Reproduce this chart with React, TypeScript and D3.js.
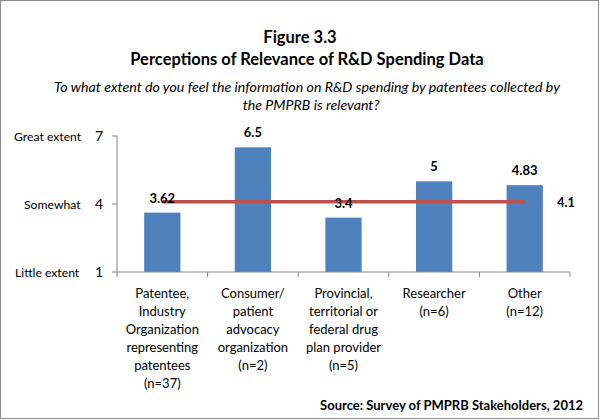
import React from "react";
import * as d3 from "d3";

const categories: string[][] = [
  ["Patentee,", "Industry", "Organization", "representing", "patentees", "(n=37)"],
  ["Consumer/", "patient", "advocacy", "organization", "(n=2)"],
  ["Provincial,", "territorial or", "federal drug", "plan provider", "(n=5)"],
  ["Researcher", "(n=6)"],
  ["Other", "(n=12)"],
];
const values: number[] = [3.62, 6.5, 3.4, 5, 4.83];
const valueLabels: string[] = ["3.62", "6.5", "3.4", "5", "4.83"];
const average = 4.1;
const averageLabel = "4.1";
const yTicks: number[] = [1, 4, 7];
const yTickNames: string[] = ["Little extent", "Somewhat", "Great extent"];

const W = 600;
const H = 420;
const FONT = "Lato, 'Open Sans', sans-serif";

export default function App() {
  const x = d3
    .scaleBand<number>()
    .domain(d3.range(categories.length))
    .range([117, 570])
    .paddingInner(0)
    .paddingOuter(0);
  const y = d3.scaleLinear().domain([1, 7]).range([272, 136]);
  const bw = x.bandwidth() * 0.4;
  const boundaries = d3.range(categories.length + 1).map((i) =>
    i < categories.length ? (x(i) as number) : (x(i - 1) as number) + x.bandwidth()
  );
  const cx = (i: number) => (x(i) as number) + x.bandwidth() / 2;
  const axisColor = "#868686";
  const nameX = [15, 24, 14];

  return (
    <svg
      width={W}
      height={H}
      style={{ position: "absolute", left: 0, top: 0, fontFamily: FONT }}
    >
      <rect x={0} y={0} width={W} height={H} fill="#fff" />
      <rect x={0.5} y={0.5} width={W - 2} height={H - 2} fill="none" stroke="#8c8c8c" />
      {/* Titles */}
      <text x={300} y={43} textAnchor="middle" fontWeight="bold" fontSize={16.5} fill="#000">
        Figure 3.3
      </text>
      <text x={307} y={65} textAnchor="middle" fontWeight="bold" fontSize={16.5} fill="#000">
        Perceptions of Relevance of R&amp;D Spending Data
      </text>
      <text x={307} y={92} textAnchor="middle" fontStyle="italic" fontSize={14.2} fill="#000">
        To what extent do you feel the information on R&amp;D spending by patentees collected by
      </text>
      <text x={311} y={110} textAnchor="middle" fontStyle="italic" fontSize={14.2} fill="#000">
        the PMPRB is relevant?
      </text>

      {/* Bars */}
      {values.map((v, i) => (
        <rect
          key={i}
          x={cx(i) - bw / 2}
          y={y(v)}
          width={bw}
          height={y(1) - y(v)}
          fill="#4F81BD"
        />
      ))}

      {/* Axes */}
      <line x1={117} x2={117} y1={y(7)} y2={y(1)} stroke={axisColor} />
      {yTicks.map((t) => (
        <line key={t} x1={112} x2={117} y1={y(t)} y2={y(t)} stroke={axisColor} />
      ))}
      <line x1={117} x2={570} y1={y(1)} y2={y(1)} stroke={axisColor} />
      {boundaries.map((b, i) => (
        <line key={i} x1={b} x2={b} y1={y(1)} y2={y(1) + 5} stroke={axisColor} />
      ))}
      {yTicks.map((t) => (
        <text key={t} x={99} y={y(t) + 5} textAnchor="middle" fontSize={14} fill="#000">
          {t}
        </text>
      ))}
      {yTickNames.map((n, i) => (
        <text key={n} x={nameX[i]} y={y(yTicks[i]) + 5} fontSize={12.2} fill="#000">
          {n}
        </text>
      ))}

      {/* Average line */}
      <line
        x1={cx(0)}
        x2={cx(categories.length - 1)}
        y1={y(average)}
        y2={y(average)}
        stroke="#C0504D"
        strokeWidth={3.5}
      />
      <text x={566} y={y(average) + 5} textAnchor="middle" fontWeight="bold" fontSize={12.5} fill="#000">
        {averageLabel}
      </text>

      {/* Value labels */}
      {values.map((v, i) => (
        <text
          key={i}
          x={cx(i)}
          y={y(v) - 10}
          textAnchor="middle"
          fontWeight="bold"
          fontSize={13}
          fill="#000"
        >
          {valueLabels[i]}
        </text>
      ))}

      {/* Category labels */}
      {categories.map((lines, i) =>
        lines.map((l, j) => (
          <text
            key={i + "-" + j}
            x={cx(i)}
            y={298 + j * 18}
            textAnchor="middle"
            fontSize={13}
            fill="#000"
          >
            {l}
          </text>
        ))
      )}

      <text x={583} y={410} textAnchor="end" fontWeight="bold" fontSize={13} fill="#000">
        Source: Survey of PMPRB Stakeholders, 2012
      </text>
    </svg>
  );
}
